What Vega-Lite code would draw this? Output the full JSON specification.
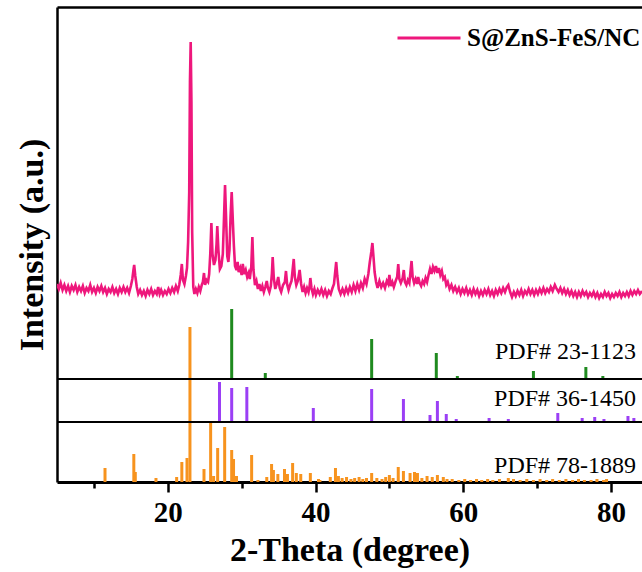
{
  "$schema": "https://vega.github.io/schema/vega-lite/v6.json",
  "width": 585,
  "height": 475,
  "autosize": {"type": "none"},
  "padding": {"left": 57, "top": 7, "right": 0, "bottom": 90},
  "background": "white",
  "config": {"view": {"stroke": null}, "font": "Liberation Serif"},
  "datasets": {
    "xrd": [
      {"theta":5.0,"intensity":198},{"theta":5.25,"intensity":193},{"theta":5.5,"intensity":199},{"theta":5.75,"intensity":192},{"theta":6.0,"intensity":197},{"theta":6.25,"intensity":191},{"theta":6.5,"intensity":196},{"theta":6.75,"intensity":190},{"theta":7.0,"intensity":196},{"theta":7.25,"intensity":192},{"theta":7.5,"intensity":197},{"theta":7.75,"intensity":190},{"theta":8.0,"intensity":195},{"theta":8.25,"intensity":191},{"theta":8.5,"intensity":196},{"theta":8.75,"intensity":189},{"theta":9.0,"intensity":194},{"theta":9.25,"intensity":191},{"theta":9.5,"intensity":197},{"theta":9.75,"intensity":190},{"theta":10.0,"intensity":194},{"theta":10.25,"intensity":189},{"theta":10.5,"intensity":195},{"theta":10.75,"intensity":191},{"theta":11.0,"intensity":196},{"theta":11.25,"intensity":190},{"theta":11.5,"intensity":194},{"theta":11.75,"intensity":188},{"theta":12.0,"intensity":193},{"theta":12.25,"intensity":190},{"theta":12.5,"intensity":195},{"theta":12.75,"intensity":189},{"theta":13.0,"intensity":193},{"theta":13.25,"intensity":188},{"theta":13.5,"intensity":194},{"theta":13.75,"intensity":190},{"theta":14.0,"intensity":195},{"theta":14.25,"intensity":190},{"theta":14.5,"intensity":194},{"theta":14.75,"intensity":189},{"theta":15.0,"intensity":196},{"theta":15.2,"intensity":203},{"theta":15.35,"intensity":212},{"theta":15.45,"intensity":217},{"theta":15.6,"intensity":206},{"theta":15.8,"intensity":195},{"theta":16.0,"intensity":188},{"theta":16.25,"intensity":192},{"theta":16.5,"intensity":187},{"theta":16.75,"intensity":191},{"theta":17.0,"intensity":186},{"theta":17.25,"intensity":192},{"theta":17.5,"intensity":188},{"theta":17.75,"intensity":193},{"theta":18.0,"intensity":187},{"theta":18.25,"intensity":191},{"theta":18.5,"intensity":188},{"theta":18.7,"intensity":195},{"theta":18.9,"intensity":188},{"theta":19.1,"intensity":192},{"theta":19.35,"intensity":187},{"theta":19.6,"intensity":191},{"theta":19.85,"intensity":188},{"theta":20.1,"intensity":193},{"theta":20.35,"intensity":189},{"theta":20.6,"intensity":194},{"theta":20.85,"intensity":190},{"theta":21.1,"intensity":196},{"theta":21.35,"intensity":191},{"theta":21.55,"intensity":197},{"theta":21.75,"intensity":207},{"theta":21.9,"intensity":218},{"theta":22.05,"intensity":202},{"theta":22.25,"intensity":198},{"theta":22.45,"intensity":206},{"theta":22.6,"intensity":214},{"theta":22.75,"intensity":240},{"theta":22.9,"intensity":290},{"theta":23.0,"intensity":400},{"theta":23.1,"intensity":440},{"theta":23.2,"intensity":380},{"theta":23.3,"intensity":250},{"theta":23.45,"intensity":195},{"theta":23.6,"intensity":188},{"theta":23.8,"intensity":193},{"theta":24.0,"intensity":189},{"theta":24.2,"intensity":195},{"theta":24.4,"intensity":191},{"theta":24.6,"intensity":197},{"theta":24.75,"intensity":200},{"theta":24.9,"intensity":209},{"theta":25.05,"intensity":197},{"theta":25.25,"intensity":202},{"theta":25.45,"intensity":200},{"theta":25.6,"intensity":208},{"theta":25.75,"intensity":228},{"theta":25.9,"intensity":259},{"theta":26.05,"intensity":228},{"theta":26.25,"intensity":217},{"theta":26.45,"intensity":222},{"theta":26.6,"intensity":238},{"theta":26.7,"intensity":256},{"theta":26.85,"intensity":232},{"theta":27.05,"intensity":213},{"theta":27.25,"intensity":216},{"theta":27.45,"intensity":228},{"theta":27.6,"intensity":262},{"theta":27.75,"intensity":297},{"theta":27.9,"intensity":262},{"theta":28.05,"intensity":226},{"theta":28.2,"intensity":220},{"theta":28.35,"intensity":232},{"theta":28.5,"intensity":266},{"theta":28.65,"intensity":290},{"theta":28.8,"intensity":262},{"theta":28.95,"intensity":236},{"theta":29.1,"intensity":216},{"theta":29.3,"intensity":212},{"theta":29.45,"intensity":220},{"theta":29.6,"intensity":210},{"theta":29.8,"intensity":214},{"theta":30.0,"intensity":207},{"theta":30.15,"intensity":218},{"theta":30.35,"intensity":208},{"theta":30.55,"intensity":212},{"theta":30.75,"intensity":205},{"theta":30.95,"intensity":209},{"theta":31.1,"intensity":203},{"theta":31.3,"intensity":215},{"theta":31.45,"intensity":245},{"theta":31.6,"intensity":212},{"theta":31.8,"intensity":197},{"theta":32.0,"intensity":201},{"theta":32.2,"intensity":193},{"theta":32.4,"intensity":198},{"theta":32.6,"intensity":191},{"theta":32.8,"intensity":196},{"theta":33.0,"intensity":190},{"theta":33.2,"intensity":195},{"theta":33.4,"intensity":201},{"theta":33.55,"intensity":194},{"theta":33.75,"intensity":190},{"theta":33.95,"intensity":196},{"theta":34.1,"intensity":209},{"theta":34.2,"intensity":225},{"theta":34.35,"intensity":204},{"theta":34.55,"intensity":193},{"theta":34.75,"intensity":198},{"theta":34.95,"intensity":205},{"theta":35.15,"intensity":194},{"theta":35.35,"intensity":190},{"theta":35.6,"intensity":197},{"theta":35.85,"intensity":200},{"theta":36.0,"intensity":211},{"theta":36.15,"intensity":198},{"theta":36.35,"intensity":192},{"theta":36.55,"intensity":197},{"theta":36.75,"intensity":201},{"theta":36.9,"intensity":212},{"theta":37.05,"intensity":223},{"theta":37.2,"intensity":205},{"theta":37.4,"intensity":197},{"theta":37.6,"intensity":201},{"theta":37.85,"intensity":212},{"theta":38.05,"intensity":198},{"theta":38.25,"intensity":190},{"theta":38.45,"intensity":195},{"theta":38.65,"intensity":189},{"theta":38.85,"intensity":194},{"theta":39.05,"intensity":190},{"theta":39.2,"intensity":196},{"theta":39.3,"intensity":204},{"theta":39.45,"intensity":194},{"theta":39.65,"intensity":188},{"theta":39.85,"intensity":193},{"theta":40.05,"intensity":187},{"theta":40.3,"intensity":192},{"theta":40.55,"intensity":188},{"theta":40.8,"intensity":193},{"theta":41.05,"intensity":187},{"theta":41.3,"intensity":192},{"theta":41.55,"intensity":186},{"theta":41.8,"intensity":191},{"theta":42.05,"intensity":188},{"theta":42.3,"intensity":194},{"theta":42.5,"intensity":198},{"theta":42.65,"intensity":209},{"theta":42.8,"intensity":220},{"theta":42.95,"intensity":206},{"theta":43.15,"intensity":193},{"theta":43.4,"intensity":188},{"theta":43.65,"intensity":193},{"theta":43.9,"intensity":188},{"theta":44.15,"intensity":194},{"theta":44.4,"intensity":189},{"theta":44.65,"intensity":195},{"theta":44.9,"intensity":190},{"theta":45.15,"intensity":197},{"theta":45.4,"intensity":191},{"theta":45.65,"intensity":198},{"theta":45.9,"intensity":192},{"theta":46.15,"intensity":199},{"theta":46.4,"intensity":194},{"theta":46.65,"intensity":203},{"theta":46.9,"intensity":198},{"theta":47.15,"intensity":208},{"theta":47.35,"intensity":220},{"theta":47.55,"intensity":230},{"theta":47.7,"intensity":239},{"theta":47.85,"intensity":225},{"theta":48.0,"intensity":210},{"theta":48.2,"intensity":200},{"theta":48.4,"intensity":194},{"theta":48.65,"intensity":201},{"theta":48.9,"intensity":195},{"theta":49.15,"intensity":199},{"theta":49.4,"intensity":194},{"theta":49.65,"intensity":201},{"theta":49.85,"intensity":198},{"theta":50.0,"intensity":207},{"theta":50.2,"intensity":196},{"theta":50.4,"intensity":200},{"theta":50.6,"intensity":195},{"theta":50.85,"intensity":201},{"theta":51.05,"intensity":205},{"theta":51.2,"intensity":218},{"theta":51.35,"intensity":203},{"theta":51.55,"intensity":199},{"theta":51.8,"intensity":204},{"theta":51.95,"intensity":212},{"theta":52.1,"intensity":200},{"theta":52.3,"intensity":197},{"theta":52.5,"intensity":202},{"theta":52.7,"intensity":199},{"theta":52.85,"intensity":210},{"theta":53.0,"intensity":221},{"theta":53.15,"intensity":205},{"theta":53.35,"intensity":199},{"theta":53.55,"intensity":203},{"theta":53.75,"intensity":198},{"theta":53.9,"intensity":205},{"theta":54.1,"intensity":199},{"theta":54.3,"intensity":196},{"theta":54.5,"intensity":201},{"theta":54.7,"intensity":198},{"theta":54.9,"intensity":204},{"theta":55.1,"intensity":200},{"theta":55.3,"intensity":207},{"theta":55.5,"intensity":213},{"theta":55.7,"intensity":208},{"theta":55.9,"intensity":215},{"theta":56.1,"intensity":211},{"theta":56.3,"intensity":216},{"theta":56.5,"intensity":209},{"theta":56.7,"intensity":214},{"theta":56.9,"intensity":207},{"theta":57.1,"intensity":211},{"theta":57.3,"intensity":203},{"theta":57.5,"intensity":205},{"theta":57.7,"intensity":197},{"theta":57.9,"intensity":200},{"theta":58.15,"intensity":193},{"theta":58.4,"intensity":197},{"theta":58.65,"intensity":191},{"theta":58.9,"intensity":195},{"theta":59.15,"intensity":190},{"theta":59.4,"intensity":194},{"theta":59.65,"intensity":188},{"theta":59.9,"intensity":193},{"theta":60.15,"intensity":189},{"theta":60.4,"intensity":194},{"theta":60.65,"intensity":188},{"theta":60.9,"intensity":192},{"theta":61.15,"intensity":187},{"theta":61.4,"intensity":193},{"theta":61.65,"intensity":188},{"theta":61.9,"intensity":192},{"theta":62.15,"intensity":186},{"theta":62.4,"intensity":191},{"theta":62.65,"intensity":187},{"theta":62.9,"intensity":192},{"theta":63.15,"intensity":188},{"theta":63.4,"intensity":193},{"theta":63.65,"intensity":187},{"theta":63.9,"intensity":191},{"theta":64.15,"intensity":186},{"theta":64.4,"intensity":192},{"theta":64.65,"intensity":188},{"theta":64.9,"intensity":193},{"theta":65.15,"intensity":189},{"theta":65.4,"intensity":194},{"theta":65.65,"intensity":190},{"theta":65.9,"intensity":195},{"theta":66.1,"intensity":197},{"theta":66.35,"intensity":190},{"theta":66.6,"intensity":185},{"theta":66.85,"intensity":190},{"theta":67.1,"intensity":186},{"theta":67.35,"intensity":191},{"theta":67.6,"intensity":187},{"theta":67.85,"intensity":192},{"theta":68.1,"intensity":186},{"theta":68.35,"intensity":191},{"theta":68.6,"intensity":188},{"theta":68.85,"intensity":193},{"theta":69.1,"intensity":188},{"theta":69.35,"intensity":192},{"theta":69.6,"intensity":187},{"theta":69.85,"intensity":192},{"theta":70.1,"intensity":188},{"theta":70.35,"intensity":193},{"theta":70.6,"intensity":189},{"theta":70.85,"intensity":194},{"theta":71.1,"intensity":189},{"theta":71.35,"intensity":193},{"theta":71.6,"intensity":190},{"theta":71.85,"intensity":195},{"theta":72.1,"intensity":191},{"theta":72.4,"intensity":197},{"theta":72.65,"intensity":193},{"theta":72.9,"intensity":190},{"theta":73.15,"intensity":194},{"theta":73.4,"intensity":189},{"theta":73.65,"intensity":193},{"theta":73.9,"intensity":188},{"theta":74.15,"intensity":192},{"theta":74.4,"intensity":187},{"theta":74.65,"intensity":191},{"theta":74.9,"intensity":186},{"theta":75.15,"intensity":190},{"theta":75.4,"intensity":185},{"theta":75.65,"intensity":190},{"theta":75.9,"intensity":186},{"theta":76.15,"intensity":191},{"theta":76.4,"intensity":187},{"theta":76.65,"intensity":190},{"theta":76.9,"intensity":185},{"theta":77.15,"intensity":189},{"theta":77.4,"intensity":186},{"theta":77.65,"intensity":190},{"theta":77.9,"intensity":185},{"theta":78.15,"intensity":189},{"theta":78.4,"intensity":184},{"theta":78.65,"intensity":188},{"theta":78.9,"intensity":185},{"theta":79.15,"intensity":190},{"theta":79.4,"intensity":186},{"theta":79.65,"intensity":189},{"theta":79.9,"intensity":184},{"theta":80.15,"intensity":188},{"theta":80.4,"intensity":185},{"theta":80.65,"intensity":189},{"theta":80.9,"intensity":186},{"theta":81.15,"intensity":190},{"theta":81.4,"intensity":185},{"theta":81.65,"intensity":189},{"theta":81.9,"intensity":186},{"theta":82.15,"intensity":190},{"theta":82.4,"intensity":186},{"theta":82.65,"intensity":191},{"theta":82.9,"intensity":187},{"theta":83.15,"intensity":191},{"theta":83.4,"intensity":188},{"theta":83.65,"intensity":192},{"theta":83.9,"intensity":188},{"theta":84.2,"intensity":191}
    ],
    "pdf23": [
      {"theta":28.65,"lo":103,"hi":173},{"theta":33.2,"lo":103,"hi":109},{"theta":47.6,"lo":103,"hi":143},{"theta":56.35,"lo":103,"hi":129},{"theta":59.2,"lo":103,"hi":106},{"theta":69.5,"lo":103,"hi":111},{"theta":76.6,"lo":103,"hi":115},{"theta":78.9,"lo":103,"hi":106}
    ],
    "pdf36": [
      {"theta":27.0,"lo":60,"hi":100},{"theta":28.65,"lo":60,"hi":94},{"theta":30.7,"lo":60,"hi":95},{"theta":39.7,"lo":60,"hi":74},{"theta":47.6,"lo":60,"hi":93},{"theta":51.9,"lo":60,"hi":83},{"theta":55.5,"lo":60,"hi":67},{"theta":56.5,"lo":60,"hi":81},{"theta":57.7,"lo":60,"hi":68},{"theta":59.05,"lo":60,"hi":63},{"theta":63.5,"lo":60,"hi":64},{"theta":66.1,"lo":60,"hi":63},{"theta":72.8,"lo":60,"hi":69},{"theta":76.1,"lo":60,"hi":64},{"theta":77.8,"lo":60,"hi":65},{"theta":79.05,"lo":60,"hi":63},{"theta":82.3,"lo":60,"hi":66},{"theta":83.1,"lo":60,"hi":64}
    ],
    "pdf78": [
      {"theta":11.5,"lo":0,"hi":14},{"theta":15.4,"lo":0,"hi":28},{"theta":15.6,"lo":0,"hi":10},{"theta":18.4,"lo":0,"hi":4},{"theta":21.2,"lo":0,"hi":5},{"theta":21.9,"lo":0,"hi":20},{"theta":22.6,"lo":0,"hi":24},{"theta":23.0,"lo":0,"hi":155},{"theta":24.9,"lo":0,"hi":13},{"theta":25.8,"lo":0,"hi":59},{"theta":26.2,"lo":0,"hi":6},{"theta":26.75,"lo":0,"hi":34},{"theta":27.7,"lo":0,"hi":55},{"theta":28.65,"lo":0,"hi":32},{"theta":28.9,"lo":0,"hi":23},{"theta":29.3,"lo":0,"hi":6},{"theta":31.35,"lo":0,"hi":27},{"theta":32.2,"lo":0,"hi":2},{"theta":33.4,"lo":0,"hi":5},{"theta":34.05,"lo":0,"hi":18},{"theta":34.3,"lo":0,"hi":12},{"theta":34.9,"lo":0,"hi":8},{"theta":35.8,"lo":0,"hi":13},{"theta":36.2,"lo":0,"hi":8},{"theta":36.9,"lo":0,"hi":19},{"theta":37.4,"lo":0,"hi":9},{"theta":38.0,"lo":0,"hi":8},{"theta":39.3,"lo":0,"hi":9},{"theta":40.4,"lo":0,"hi":3},{"theta":40.6,"lo":0,"hi":2},{"theta":42.0,"lo":0,"hi":5},{"theta":42.7,"lo":0,"hi":14},{"theta":43.1,"lo":0,"hi":6},{"theta":43.6,"lo":0,"hi":4},{"theta":44.2,"lo":0,"hi":5},{"theta":44.8,"lo":0,"hi":3},{"theta":45.3,"lo":0,"hi":4},{"theta":45.9,"lo":0,"hi":5},{"theta":46.4,"lo":0,"hi":3},{"theta":46.9,"lo":0,"hi":4},{"theta":47.6,"lo":0,"hi":9},{"theta":48.3,"lo":0,"hi":4},{"theta":49.0,"lo":0,"hi":3},{"theta":49.5,"lo":0,"hi":5},{"theta":50.0,"lo":0,"hi":7},{"theta":50.5,"lo":0,"hi":4},{"theta":51.2,"lo":0,"hi":15},{"theta":51.9,"lo":0,"hi":11},{"theta":52.8,"lo":0,"hi":9},{"theta":53.4,"lo":0,"hi":10},{"theta":53.8,"lo":0,"hi":9},{"theta":54.4,"lo":0,"hi":4},{"theta":55.1,"lo":0,"hi":6},{"theta":55.8,"lo":0,"hi":5},{"theta":56.5,"lo":0,"hi":7},{"theta":57.3,"lo":0,"hi":5},{"theta":57.8,"lo":0,"hi":3},{"theta":58.5,"lo":0,"hi":3},{"theta":59.4,"lo":0,"hi":2},{"theta":60.2,"lo":0,"hi":3},{"theta":61.0,"lo":0,"hi":2},{"theta":61.8,"lo":0,"hi":3},{"theta":62.5,"lo":0,"hi":2},{"theta":63.3,"lo":0,"hi":3},{"theta":64.0,"lo":0,"hi":2},{"theta":64.9,"lo":0,"hi":3},{"theta":66.1,"lo":0,"hi":4},{"theta":66.8,"lo":0,"hi":3},{"theta":67.7,"lo":0,"hi":2},{"theta":68.6,"lo":0,"hi":3},{"theta":69.5,"lo":0,"hi":2},{"theta":70.4,"lo":0,"hi":3},{"theta":71.3,"lo":0,"hi":2},{"theta":72.1,"lo":0,"hi":3},{"theta":73.0,"lo":0,"hi":2},{"theta":73.9,"lo":0,"hi":3},{"theta":74.8,"lo":0,"hi":2},{"theta":75.6,"lo":0,"hi":3},{"theta":76.4,"lo":0,"hi":2},{"theta":77.3,"lo":0,"hi":2},{"theta":78.1,"lo":0,"hi":3},{"theta":79.0,"lo":0,"hi":2},{"theta":79.4,"lo":0,"hi":3}
    ],
    "refs": [
      {"ref":"PDF# 23-1123","base":103,"labelY":123},
      {"ref":"PDF# 36-1450","base":60,"labelY":76},
      {"ref":"PDF# 78-1889","base":0,"labelY":9}
    ]
  },
  "resolve": {"axis": {"x": "independent", "y": "shared"}},
  "layer": [
    {
      "data": {"name": "xrd"},
      "mark": {"type": "line", "strokeWidth": 2.6, "clip": true},
      "encoding": {
        "x": {
          "field": "theta", "type": "quantitative",
          "scale": {"domain": [5, 84.2], "nice": false, "zero": false},
          "axis": {
            "orient": "bottom",
            "title": "2-Theta (degree)",
            "values": [10, 20, 30, 40, 50, 60, 70, 80],
            "labelExpr": "datum.value % 20 === 0 ? datum.label : ''",
            "tickSize": {"condition": {"test": "datum.value % 20 === 0", "value": 10}, "value": 6},
            "tickWidth": 2.5, "tickColor": "black",
            "domainColor": "black", "domainWidth": 3,
            "grid": false,
            "labelFont": "Liberation Serif", "labelFontWeight": "bold", "labelFontSize": 29,
            "labelColor": "black", "labelPadding": 6, "labelOverlap": false, "labelFlush": false,
            "titleFont": "Liberation Serif", "titleFontWeight": "bold", "titleFontSize": 34,
            "titleColor": "black", "titlePadding": 6
          }
        },
        "y": {
          "field": "intensity", "type": "quantitative",
          "scale": {"domain": [0, 475], "nice": false, "zero": false},
          "axis": {
            "orient": "left",
            "title": "Intensity (a.u.)",
            "ticks": false, "labels": false, "grid": false,
            "domain": true,
            "domainColor": "black", "domainWidth": 2.5,
            "titleFont": "Liberation Serif", "titleFontWeight": "bold", "titleFontSize": 34,
            "titleColor": "black", "titlePadding": 8
          }
        },
        "color": {
          "datum": "S@ZnS-FeS/NC",
          "scale": {"range": ["#ee177c"]},
          "legend": {
            "title": null, "orient": "none", "legendX": 339, "legendY": -2,
            "symbolType": "stroke", "symbolSize": 3969, "symbolStrokeWidth": 3,
            "labelFont": "Liberation Serif", "labelFontWeight": "bold", "labelFontSize": 25,
            "labelColor": "black", "labelOffset": 5, "padding": 0, "labelLimit": 400
          }
        }
      }
    },
    {
      "data": {"name": "pdf23"},
      "mark": {"type": "rule", "color": "#1f8a1f", "strokeWidth": 3},
      "encoding": {
        "x": {
          "field": "theta", "type": "quantitative",
          "axis": {"orient": "top", "title": null, "labels": false, "ticks": false, "grid": false, "domainColor": "black", "domainWidth": 2.5}
        },
        "y": {"field": "lo", "type": "quantitative"},
        "y2": {"field": "hi"}
      }
    },
    {
      "data": {"name": "pdf36"},
      "mark": {"type": "rule", "color": "#9b3ff5", "strokeWidth": 3},
      "encoding": {
        "x": {"field": "theta", "type": "quantitative", "axis": null},
        "y": {"field": "lo", "type": "quantitative"},
        "y2": {"field": "hi"}
      }
    },
    {
      "data": {"name": "pdf78"},
      "mark": {"type": "rule", "color": "#f7931e", "strokeWidth": 3},
      "encoding": {
        "x": {"field": "theta", "type": "quantitative", "axis": null},
        "y": {"field": "lo", "type": "quantitative"},
        "y2": {"field": "hi"}
      }
    },
    {
      "data": {"name": "refs"},
      "transform": [{"filter": "datum.base > 0"}],
      "mark": {"type": "rule", "color": "black", "strokeWidth": 2},
      "encoding": {
        "y": {"field": "base", "type": "quantitative"}
      }
    },
    {
      "data": {"name": "refs"},
      "mark": {"type": "text", "align": "right", "baseline": "alphabetic", "font": "Liberation Serif", "fontSize": 24, "color": "black"},
      "encoding": {
        "x": {"datum": 83.4, "type": "quantitative", "axis": null},
        "y": {"field": "labelY", "type": "quantitative"},
        "text": {"field": "ref"}
      }
    }
  ]
}
